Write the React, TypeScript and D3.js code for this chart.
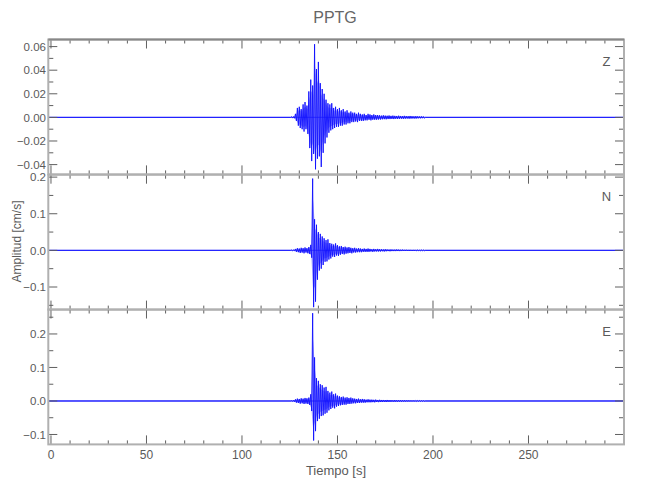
import React from 'react';
import * as d3 from 'd3';

// Station and component labels
const stationName = 'PPTG';
const channels = ['Z', 'N', 'E'];

// Event window: envelope sampled every second from t = 126 s
const windowStart = 126;

const zHigh = [
  0.0006, 0.0007, 0.003, 0.008, 0.009, 0.007, 0.011, 0.013, 0.010, 0.022,
  0.032, 0.027, 0.062, 0.041, 0.047, 0.029, 0.024, 0.020, 0.015, 0.012,
  0.011, 0.012, 0.008, 0.009, 0.007, 0.008, 0.006, 0.007, 0.005, 0.006,
  0.004, 0.005, 0.004, 0.004, 0.003, 0.004, 0.003, 0.0025, 0.003, 0.002,
  0.003, 0.0025, 0.002, 0.0025, 0.002, 0.002, 0.0018, 0.0015, 0.0018, 0.0015,
  0.0014, 0.0016, 0.0013, 0.0015, 0.0013, 0.0012, 0.0014, 0.0012, 0.0011, 0.0013,
  0.0011, 0.001, 0.0012, 0.001, 0.0009, 0.001, 0.0009, 0.0008, 0.0008, 0.0007,
];
const zLow = [
  -0.0006, -0.0007, -0.003, -0.007, -0.009, -0.010, -0.012, -0.010, -0.014, -0.026,
  -0.037, -0.031, -0.044, -0.035, -0.033, -0.042, -0.030, -0.022, -0.017, -0.013,
  -0.011, -0.010, -0.009, -0.008, -0.008, -0.007, -0.007, -0.006, -0.006, -0.005,
  -0.005, -0.004, -0.004, -0.0035, -0.004, -0.003, -0.003, -0.003, -0.0025, -0.0025,
  -0.002, -0.0025, -0.002, -0.002, -0.002, -0.0018, -0.0018, -0.0016, -0.0015, -0.0016,
  -0.0014, -0.0014, -0.0013, -0.0014, -0.0012, -0.0013, -0.0012, -0.0011, -0.0012, -0.0011,
  -0.001, -0.0011, -0.001, -0.0009, -0.001, -0.0009, -0.0008, -0.0008, -0.0007, -0.0007,
];

const nHigh = [
  0.001, 0.001, 0.004, 0.006, 0.005, 0.007, 0.006, 0.008, 0.006, 0.009,
  0.015, 0.196, 0.085, 0.070, 0.050, 0.045, 0.038, 0.033, 0.028, 0.030,
  0.020, 0.018, 0.016, 0.019, 0.014, 0.011, 0.012, 0.009, 0.010, 0.008,
  0.009, 0.007, 0.006, 0.007, 0.005, 0.006, 0.005, 0.004, 0.005, 0.004,
  0.005, 0.004, 0.003, 0.004, 0.003, 0.004, 0.003, 0.003, 0.0025, 0.003,
  0.0025, 0.002, 0.0025, 0.002, 0.002, 0.0025, 0.002, 0.0018, 0.002, 0.0016,
  0.0018, 0.0015, 0.0016, 0.0014, 0.0015, 0.0013, 0.0012, 0.0013, 0.0011, 0.001,
];
const nLow = [
  -0.001, -0.001, -0.004, -0.005, -0.007, -0.006, -0.008, -0.006, -0.008, -0.010,
  -0.020, -0.155, -0.140, -0.080, -0.055, -0.050, -0.040, -0.031, -0.030, -0.025,
  -0.022, -0.017, -0.018, -0.014, -0.015, -0.012, -0.010, -0.011, -0.009, -0.008,
  -0.007, -0.008, -0.006, -0.006, -0.005, -0.005, -0.005, -0.004, -0.004, -0.004,
  -0.004, -0.003, -0.004, -0.003, -0.003, -0.003, -0.003, -0.0025, -0.003, -0.0025,
  -0.002, -0.0025, -0.002, -0.002, -0.002, -0.0018, -0.002, -0.0018, -0.0016, -0.0017,
  -0.0015, -0.0016, -0.0014, -0.0015, -0.0013, -0.0012, -0.0013, -0.0011, -0.001, -0.001,
];

const eHigh = [
  0.001, 0.002, 0.005, 0.007, 0.006, 0.008, 0.007, 0.009, 0.008, 0.010,
  0.020, 0.262, 0.130, 0.068, 0.060, 0.050, 0.047, 0.040, 0.042, 0.030,
  0.025, 0.028, 0.020, 0.022, 0.016, 0.014, 0.012, 0.013, 0.010, 0.011,
  0.009, 0.010, 0.008, 0.007, 0.006, 0.007, 0.005, 0.006, 0.005, 0.004,
  0.005, 0.004, 0.004, 0.0035, 0.004, 0.003, 0.0035, 0.003, 0.003, 0.0025,
  0.003, 0.0025, 0.0025, 0.002, 0.0025, 0.002, 0.002, 0.0022, 0.0018, 0.002,
  0.0017, 0.0018, 0.0016, 0.0015, 0.0016, 0.0014, 0.0013, 0.0014, 0.0012, 0.0011,
];
const eLow = [
  -0.001, -0.002, -0.005, -0.006, -0.008, -0.007, -0.009, -0.008, -0.009, -0.012,
  -0.030, -0.118, -0.090, -0.060, -0.053, -0.045, -0.043, -0.038, -0.035, -0.028,
  -0.024, -0.020, -0.022, -0.017, -0.015, -0.013, -0.012, -0.011, -0.011, -0.009,
  -0.009, -0.008, -0.007, -0.007, -0.006, -0.006, -0.005, -0.005, -0.005, -0.004,
  -0.004, -0.004, -0.0035, -0.004, -0.003, -0.0035, -0.003, -0.003, -0.0025, -0.003,
  -0.0025, -0.0025, -0.002, -0.0022, -0.002, -0.002, -0.0018, -0.002, -0.0017, -0.0018,
  -0.0016, -0.0016, -0.0015, -0.0014, -0.0015, -0.0013, -0.0012, -0.0012, -0.0011, -0.001,
];

// Axis ranges and ticks
const timeDomain = [-1.4, 300];
const timeMajor = [0, 50, 100, 150, 200, 250];
const zDomain = [-0.0483, 0.066];
const nDomain = [-0.1617, 0.2066];
const eDomain = [-0.1296, 0.273];
const zMajor = [-0.04, -0.02, 0, 0.02, 0.04, 0.06];
const zLabels = ['−0.04', '−0.02', '0.00', '0.02', '0.04', '0.06'];
const neMajor = [-0.1, 0, 0.1, 0.2];
const neLabels = ['−0.1', '0.0', '0.1', '0.2'];

const panelTops = [39.5, 174.7, 309.5];
const panelHeight = 134.9;
const left = 48.3;
const right = 624;
const font = "'Liberation Sans', Arial, sans-serif";
const textColor = '#5a5a5a';
const frameColor = '#b0b0b0';
const tickColor = '#606060';
const traceColor = '#1010ff';

const panels = [
  { name: channels[0], hi: zHigh, lo: zLow, domain: zDomain, major: zMajor, labels: zLabels, minorStep: 0.01 },
  { name: channels[1], hi: nHigh, lo: nLow, domain: nDomain, major: neMajor, labels: neLabels, minorStep: 0.05 },
  { name: channels[2], hi: eHigh, lo: eLow, domain: eDomain, major: neMajor, labels: neLabels, minorStep: 0.05 },
];

const App: React.FC = () => {
  const x = d3.scaleLinear().domain(timeDomain).range([left, right]);
  const timeMinor = d3.range(0, 301, 10);

  return (
    <svg
      width={650}
      height={500}
      fontFamily={font}
      style={{ position: 'absolute', left: 0, top: 0, background: '#fff' }}
    >
      <rect x={0} y={0} width={650} height={500} fill="#fff" />
      <text x={335} y={23} textAnchor="middle" fontSize={16} fill="#666">{stationName}</text>

      {panels.map((p, i) => {
        const top = panelTops[i];
        const bottom = top + panelHeight;
        const y = d3.scaleLinear().domain(p.domain).range([bottom, top]);

        // zigzag between the upper and lower envelope each second
        const pts: [number, number][] = [[timeDomain[0], 0], [windowStart - 0.5, 0]];
        p.hi.forEach((h, k) => {
          pts.push([windowStart + k, h]);
          pts.push([windowStart + k + 0.5, p.lo[k]]);
        });
        pts.push([windowStart + p.hi.length, 0]);
        pts.push([timeDomain[1], 0]);
        const line = d3.line<[number, number]>()
          .x(d => x(d[0]))
          .y(d => y(d[1]));

        const area = d3.area<number>()
          .x((_, k) => x(windowStart + k + 0.25))
          .y0((_, k) => y(p.lo[k] * 0.7))
          .y1(h => y(h * 0.7));

        const yMinor = d3.range(Math.ceil(p.domain[0] / p.minorStep), Math.floor(p.domain[1] / p.minorStep) + 1)
          .map(k => k * p.minorStep);

        return (
          <g key={p.name}>
            <clipPath id={`clip-${i}`}>
              <rect x={left} y={top} width={right - left} height={panelHeight} />
            </clipPath>
            <line x1={left} x2={right} y1={y(0)} y2={y(0)} stroke={traceColor} strokeWidth={1.4} opacity={0.6} />
            <path d={area(p.hi) || ''} fill="#5050ff" opacity={0.45} />
            <path d={line(pts) || ''} fill="none" stroke={traceColor} strokeWidth={0.9} clipPath={`url(#clip-${i})`} />

            {/* time ticks on top and bottom */}
            {timeMinor.map(t => {
              const len = t % 50 === 0 ? 9 : 4;
              return (
                <g key={t} stroke={tickColor} strokeWidth={1}>
                  <line x1={x(t)} x2={x(t)} y1={top} y2={top + len} />
                  <line x1={x(t)} x2={x(t)} y1={bottom} y2={bottom - len} />
                </g>
              );
            })}

            {/* amplitude ticks left and right */}
            {yMinor.map(v => {
              const isMajor = p.major.some(m => Math.abs(m - v) < 1e-9);
              const len = isMajor ? 9 : 5;
              return (
                <g key={v} stroke={tickColor} strokeWidth={1}>
                  <line x1={left} x2={left + len} y1={y(v)} y2={y(v)} />
                  <line x1={right} x2={right - len} y1={y(v)} y2={y(v)} />
                </g>
              );
            })}
            {p.major.map((v, k) => (
              <text key={v} x={46} y={y(v) + 4.2} textAnchor="end" fontSize={11.5} fill={textColor}>
                {p.labels[k]}
              </text>
            ))}

            <rect x={left} y={top} width={right - left} height={panelHeight} fill="none" stroke={frameColor} strokeWidth={2} />
            <text x={606.5} y={top + 26.5} textAnchor="middle" fontSize={13} fill={textColor}>{p.name}</text>
          </g>
        );
      })}
      <line x1={left} x2={right} y1={panelTops[0]} y2={panelTops[0]} stroke="#888" strokeWidth={2} />

      {timeMajor.map(t => (
        <text key={t} x={x(t)} y={459} textAnchor="middle" fontSize={12} fill={textColor}>{t}</text>
      ))}
      <text x={336} y={475} textAnchor="middle" fontSize={13} fill={textColor}>Tiempo [s]</text>
      <text transform="translate(21,241.5) rotate(-90)" textAnchor="middle" fontSize={12} fill={textColor}>
        Amplitud [cm/s]
      </text>
    </svg>
  );
};

export default App;
